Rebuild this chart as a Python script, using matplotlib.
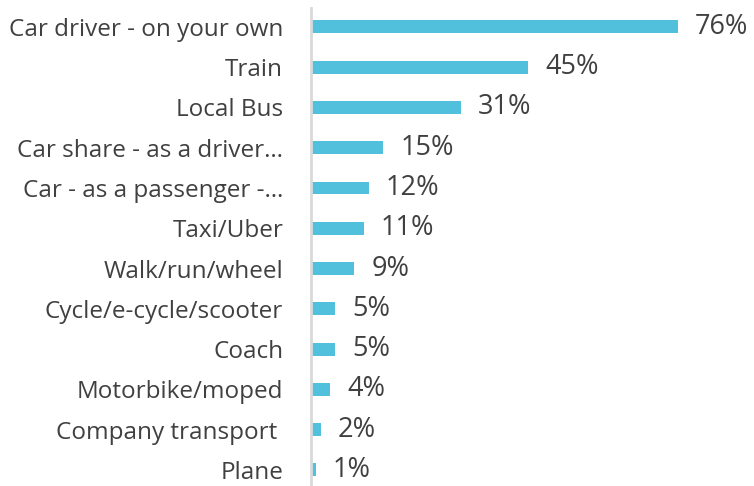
import matplotlib
matplotlib.use("Agg")
import matplotlib.pyplot as plt

# data
modes = ['Car driver - on your own', 'Train', 'Local Bus', 'Car share - as a driver\u2026',
         'Car - as a passenger -\u2026', 'Taxi/Uber', 'Walk/run/wheel', 'Cycle/e-cycle/scooter',
         'Coach', 'Motorbike/moped', 'Company transport ', 'Plane']
pct = [76, 45, 31, 15, 12, 11, 9, 5, 5, 4, 2, 1]

plt.rcParams['font.family'] = ['Open Sans', 'DejaVu Sans']

fig = plt.figure(figsize=(7.54, 4.86), dpi=100)
ax = fig.add_axes([311 / 754, 0, 1 - 311 / 754, 1 - 8 / 486])

pos = list(range(len(modes)))
ax.barh(pos, pct, height=0.32, color='#51C0DD')

for p, v in zip(pos, pct):
    ax.text(v + 3.5, p, f'{v}%', va='center', ha='left', fontsize=19.5, color='#404040')

ax.set_yticks(pos)
ax.set_yticklabels(modes, fontsize=17.5, color='#404040')
ax.tick_params(axis='y', length=0, pad=20)
ax.set_xticks([])
ax.set_xlim(0, 91.7)
ax.set_ylim(11.4, -0.47)

for s in ['top', 'right', 'bottom']:
    ax.spines[s].set_visible(False)
ax.spines['left'].set_color('#D9D9D9')
ax.spines['left'].set_linewidth(2)

fig.savefig('out.png', dpi=100)
